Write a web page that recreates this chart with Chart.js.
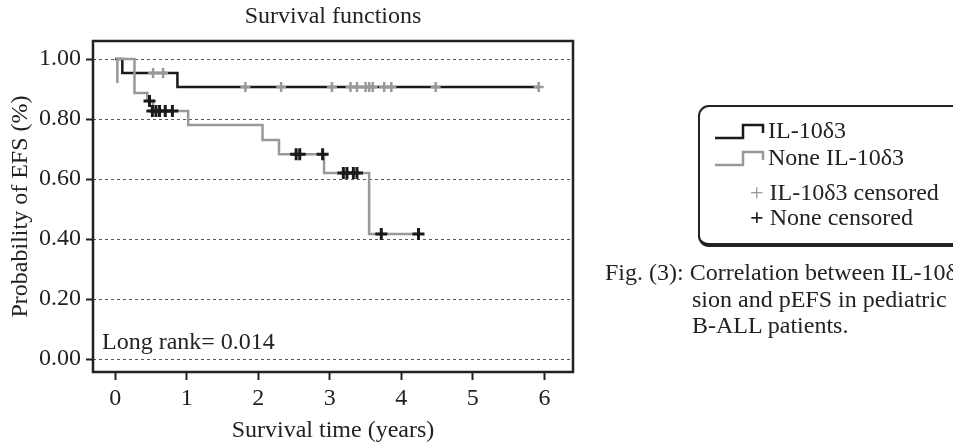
<!DOCTYPE html>
<html>
<head>
<meta charset="utf-8">
<script src="https://cdn.jsdelivr.net/npm/chart.js@4"></script>
<style>
  html, body { margin: 0; padding: 0; background: #fff; overflow: hidden; }
  body { width: 953px; height: 445px; position: relative; font-family: "Liberation Serif", serif; color: #222; }
  #wrap { position: absolute; left: 0; top: 0; width: 953px; height: 445px; }
  .txt { position: absolute; font-size: 24px; line-height: 28px; white-space: nowrap; }
  #legend { position: absolute; left: 698px; top: 105px; width: 320px; height: 136px;
            border: 2px solid #222; border-bottom-width: 4px; border-radius: 11px; }
  .ico { position: absolute; }
</style>
</head>
<body>
<div id="wrap"><canvas id="kmChart"></canvas></div>

<div id="legend">
  <svg class="ico" style="left:13px;top:14px" width="52" height="20">
    <polyline points="2,17 30,17 30,4 50,4 50,12" fill="none" stroke="#1a1a1a" stroke-width="2.5"/>
  </svg>
  <svg class="ico" style="left:13px;top:41px" width="52" height="20">
    <polyline points="2,17 30,17 30,4 50,4 50,12" fill="none" stroke="#999" stroke-width="2.5"/>
  </svg>
  <div class="txt" style="left:68px;top:9px">IL-10δ3</div>
  <div class="txt" style="left:68px;top:36px">None IL-10δ3</div>
  <div class="txt" style="left:50px;top:71px"><span style="color:#999">+</span> IL-10δ3 censored</div>
  <div class="txt" style="left:50px;top:96px"><b style="font-weight:bold">+</b> None censored</div>
</div>

<div class="txt" style="left:605px;top:258px">Fig. (3): Correlation between IL-10δ3 expres-</div>
<div class="txt" style="left:692px;top:285px">sion and pEFS in pediatric</div>
<div class="txt" style="left:692px;top:311px">B-ALL patients.</div>

<script>
// tick values
const xTicks = [0, 1, 2, 3, 4, 5, 6];
const yTicks = [0, 0.2, 0.4, 0.6, 0.8, 1.0];

// IL-10δ3 group: event times and survival after each step
const il10Times = [0, 0.1, 0.87, 5.92];
const il10Surv = [1.0, 0.953, 0.907, 0.907];

// None IL-10δ3 group
const noneTimes = [0.03, 0.03, 0.27, 0.45, 0.53, 1.02, 2.06, 2.29, 2.92, 3.55, 4.24];
const noneSurv = [0.92, 1.0, 0.887, 0.86, 0.827, 0.78, 0.73, 0.683, 0.62, 0.417, 0.417];

// censored observations
const il10CensTimes = [0.53, 0.67, 1.82, 2.32, 3.03, 3.29, 3.38, 3.5, 3.55, 3.6, 3.76, 3.86, 4.48, 5.92];
const il10CensSurv = [0.953, 0.953, 0.907, 0.907, 0.907, 0.907, 0.907, 0.907, 0.907, 0.907, 0.907, 0.907, 0.907, 0.907];
const noneCensTimes = [0.48, 0.52, 0.57, 0.62, 0.7, 0.8, 2.53, 2.58, 2.9, 3.19, 3.24, 3.33, 3.38, 3.72, 4.24];
const noneCensSurv = [0.86, 0.827, 0.827, 0.827, 0.827, 0.827, 0.683, 0.683, 0.683, 0.62, 0.62, 0.62, 0.62, 0.417, 0.417];

const toPts = (xs, ys) => xs.map((x, i) => ({ x: x, y: ys[i] }));

Chart.defaults.font.family = '"Liberation Serif", serif';
Chart.defaults.font.size = 24;
Chart.defaults.color = '#222';

const frame = {
  id: 'frame',
  afterDraw(chart) {
    const { ctx, chartArea: a } = chart;
    ctx.save();
    ctx.strokeStyle = '#222';
    ctx.lineWidth = 2.5;
    ctx.strokeRect(a.left, a.top, a.right - a.left, a.bottom - a.top);
    ctx.fillStyle = '#222';
    ctx.font = '24px "Liberation Serif"';
    ctx.textAlign = 'center';
    ctx.textBaseline = 'middle';
    ctx.fillText('Survival functions', (a.left + a.right) / 2, 17);
    ctx.textAlign = 'left';
    ctx.fillText('Long rank= 0.014', a.left + 9, 343);
    ctx.restore();
  }
};

const ctx = document.getElementById('kmChart').getContext('2d');
new Chart(ctx, {
  type: 'scatter',
  data: {
    datasets: [
      {
        label: 'None censored',
        data: toPts(noneCensTimes, noneCensSurv),
        pointStyle: 'cross',
        pointRadius: 6,
        borderColor: '#1a1a1a',
        borderWidth: 3
      },
      {
        label: 'IL-10δ3 censored',
        data: toPts(il10CensTimes, il10CensSurv),
        pointStyle: 'cross',
        pointRadius: 5,
        borderColor: '#999',
        borderWidth: 2.5
      },
      {
        label: 'None IL-10δ3',
        data: toPts(noneTimes, noneSurv),
        showLine: true,
        stepped: 'before',
        borderColor: '#999',
        borderWidth: 2.5,
        pointRadius: 0
      },
      {
        label: 'IL-10δ3',
        data: toPts(il10Times, il10Surv),
        showLine: true,
        stepped: 'before',
        borderColor: '#1a1a1a',
        borderWidth: 2.5,
        pointRadius: 0
      }
    ]
  },
  options: {
    responsive: true,
    maintainAspectRatio: false,
    animation: false,
    layout: { padding: { top: 41, right: 380, bottom: 0, left: 0 } },
    plugins: {
      legend: { display: false },
      tooltip: { enabled: false }
    },
    scales: {
      x: {
        type: 'linear',
        min: -0.31,
        max: 6.4,
        afterFit: (s) => { s.height = 73; },
        afterBuildTicks: (s) => { s.ticks = xTicks.map(v => ({ value: v })); },
        ticks: { padding: 4, color: '#222' },
        grid: { drawOnChartArea: false, drawTicks: true, tickLength: 8, tickWidth: 2, tickColor: '#222' },
        border: { display: false },
        title: { display: true, text: 'Survival time (years)', padding: { top: 0, bottom: 0 }, color: '#222' }
      },
      y: {
        type: 'linear',
        min: -0.043,
        max: 1.06,
        afterFit: (s) => { s.width = 93; },
        afterBuildTicks: (s) => { s.ticks = yTicks.map(v => ({ value: v })); },
        ticks: { padding: 5, color: '#222', callback: (v) => v.toFixed(2) },
        grid: { color: '#555', lineWidth: 1, tickLength: 7, tickWidth: 2, tickColor: '#222', tickBorderDash: [] },
        border: { display: false, dash: [3, 3] },
        title: { display: true, text: 'Probability of EFS (%)', padding: { top: 6, bottom: 0 }, color: '#222' }
      }
    }
  },
  plugins: [frame]
});
</script>
</body>
</html>
